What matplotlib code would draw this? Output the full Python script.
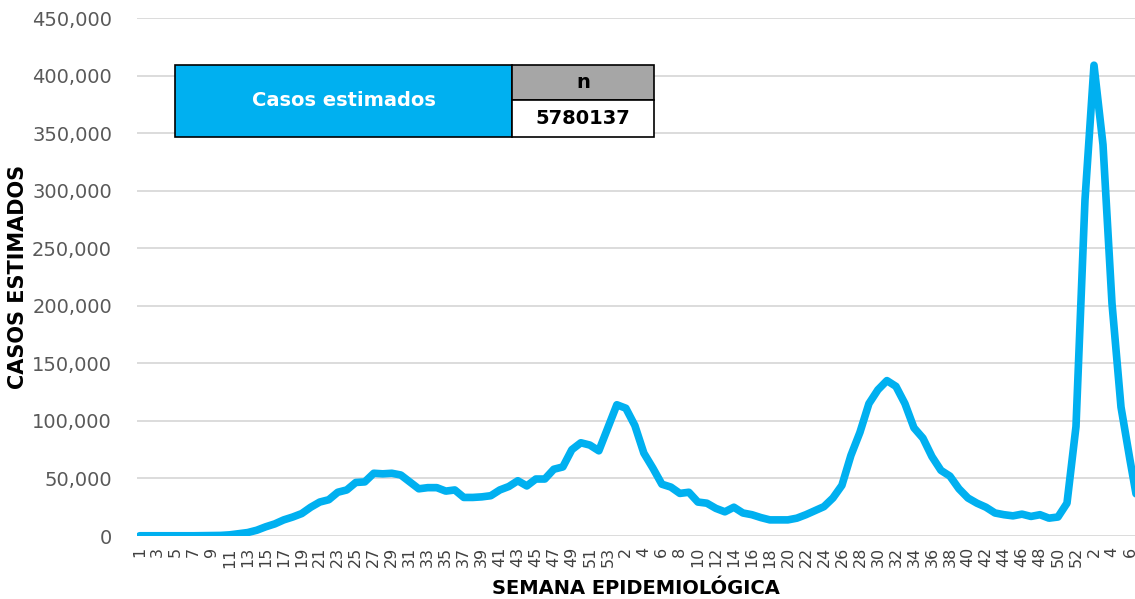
import numpy as np
import matplotlib.pyplot as plt
from matplotlib.patches import Rectangle

# casos estimados por semana epidemiologica
casos2020 = [200, 200, 200, 200, 200, 200, 200, 300, 400, 500,
             1000, 2000, 3000, 5000, 8000, 10500, 14000, 16500, 19500, 25000,
             29500, 31500, 38000, 40000, 46500, 47000, 54500, 54000, 54500, 53000,
             47000, 41000, 42000, 42000, 39000, 40000, 33500, 33500, 34000, 35000,
             40000, 43000, 48000, 43500, 49500, 49500, 58000, 60000, 75000, 81000,
             79000, 74000, 94000]
casos2021 = [114000, 111000, 96000, 72000, 59000, 45000, 42500, 37000, 38000, 29500,
             28500, 24000, 21000, 25000, 20000, 18500, 16000, 14000, 14000, 14000,
             15500, 18500, 22000, 25500, 33000, 44000, 70000, 90000, 115000, 127000,
             135000, 130000, 115000, 94000, 85000, 69000, 57000, 52000, 41000, 33000,
             28500, 25000, 20000, 18500, 17500, 19000, 17000, 18500, 15500, 16500,
             28500, 95000]
casos2022 = [292000, 409000, 340000, 202000, 112000, 66000, 22000]

semanas = (list(range(1, 54)) + list(range(1, 53)) + list(range(1, 8)))
casos = casos2020 + casos2021 + casos2022
total = 5780137

azul = '#00B0F0'
W, H = 1135, 599
fig = plt.figure(figsize=(W / 100, H / 100), dpi=100)
ax = fig.add_axes([137 / W, (H - 536) / H, (1135 - 137) / W, (536 - 18) / H])

x = np.arange(len(casos))
ax.plot(x, casos, color=azul, lw=5.5, solid_joinstyle='round', solid_capstyle='round')

ax.set_ylim(0, 450000)
ax.set_xlim(-0.3, (1135 - 140) / 9.0)
ax.set_yticks(np.arange(0, 450001, 50000))
ax.set_yticklabels(['{:,}'.format(v) for v in range(0, 450001, 50000)],
                   fontsize=14, color='#595959')
ticks = x[::2][:56]
ax.set_xticks(ticks)
ax.set_xticklabels([str(semanas[i]) for i in ticks], rotation=90,
                   fontsize=11.5, color='#404040')
ax.tick_params(axis='y', length=0, pad=18)
ax.tick_params(axis='x', length=0, pad=8)
ax.grid(axis='y', color='#d9d9d9', lw=1.3)
ax.set_axisbelow(True)
for s in ax.spines.values():
    s.set_visible(False)

ax.set_ylabel('CASOS ESTIMADOS', fontsize=15, fontweight='bold')
ax.yaxis.set_label_coords(-(137 - 18) / (1135 - 137), 0.5)
ax.set_xlabel('SEMANA EPIDEMIOLÓGICA', fontsize=14, fontweight='bold')
ax.xaxis.set_label_coords(0.5, -(588 - 536) / (536 - 18))
ax.xaxis.label.set_va('center')
ax.yaxis.label.set_va('center')


# tabla de resumen (en pixeles de la figura)
def px(x0, y0, x1, y1):
    return (x0 / W, 1 - y1 / H), (x1 - x0) / W, (y1 - y0) / H


for (x0, y0, x1, y1), fc in [((175, 65, 512, 137), azul),
                             ((512, 65, 654, 100), '#A6A6A6'),
                             ((512, 100, 654, 137), 'white')]:
    xy, w, h = px(x0, y0, x1, y1)
    fig.add_artist(Rectangle(xy, w, h, transform=fig.transFigure,
                             facecolor=fc, edgecolor='black', lw=1.2, zorder=5))
fig.text((175 + 512) / 2 / W, 1 - 101 / H, 'Casos estimados', color='white',
         fontsize=14, fontweight='bold', ha='center', va='center', zorder=6)
fig.text((512 + 654) / 2 / W, 1 - 83 / H, 'n', color='black',
         fontsize=14, fontweight='bold', ha='center', va='center', zorder=6)
fig.text((512 + 654) / 2 / W, 1 - 119 / H, str(total), color='black',
         fontsize=14, fontweight='bold', ha='center', va='center', zorder=6)

fig.savefig('out.png', dpi=100)
